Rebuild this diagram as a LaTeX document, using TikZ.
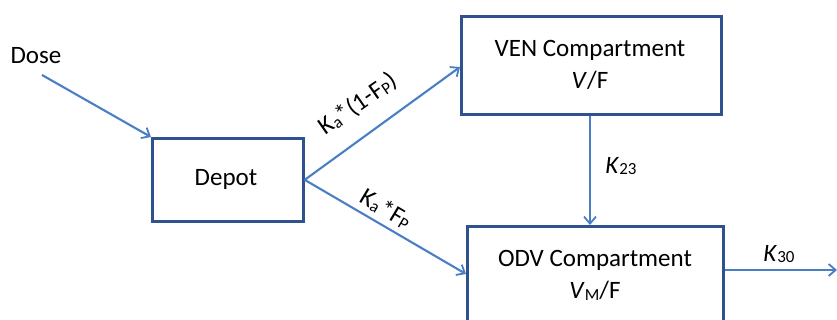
\documentclass[tikz,border=0pt]{standalone}
\usepackage{fontspec}
\setmainfont{Carlito}
\usetikzlibrary{arrows.meta}
\definecolor{flowblue}{HTML}{4A7EC4}
\definecolor{boxblue}{HTML}{2F528F}
\tikzset{
  x=1pt, y=-1pt,
  comp/.style={draw=boxblue, line width=2.7pt, rectangle, anchor=north west, inner sep=0pt},
  flow/.style={draw=flowblue, line width=2.1pt, -{Straight Barb[length=7pt,width=12pt,line width=1.8pt]}},
  lbl/.style={font=\fontsize{25}{28}\selectfont, inner sep=0pt},
}
\newcommand{\sub}[1]{\raisebox{-0.15ex}{\fontsize{17}{18}\selectfont #1}}
\begin{document}
\begin{tikzpicture}
\clip (0,0) rectangle (837,320);
% compartments
\node[comp, minimum width=151pt, minimum height=83pt] (depot) at (151,137) {};
\node[comp, minimum width=260pt, minimum height=98pt] (ven) at (460,15) {};
\node[comp, minimum width=256pt, minimum height=110pt] (odv) at (466,225) {};
% box texts
\node[lbl] (tdepot) at (226,179) {Depot};
\node[lbl] (tven) at (590,50) {VEN Compartment};
\node[lbl] (tvenv) at (590,80) {\textit{V}/F};
\node[lbl] (todv) at (595,260) {ODV Compartment};
\node[lbl] (todvv) at (595,291) {\textit{V}\sub{M}/F};
% dose input
\node[lbl] (dose) at (36,56) {Dose};
\coordinate (dosestart) at (42,75);
\coordinate (elim) at (837,270);
% flows
\draw[flow] (dosestart) -- (depot.north west);
\draw[flow] (depot.east) -- (460,67) coordinate (venin);
\draw[flow] (depot.east) -- (466,274) coordinate (odvin);
\draw[flow] (ven.south -| 590,0) -- (odv.north -| 590,0);
\draw[flow] (odv.east |- elim) -- (elim);
% rate constants
\node[lbl, rotate=35] (kup) at (358,104) {K\sub{a}*(1-F\sub{P})};
\node[lbl, rotate=-31] (kdown) at (386,209) {K\sub{a}\kern1pt*F\sub{P}};
\node[lbl] (k23) at (621,166) {\textit{K}\sub{23}};
\node[lbl] (k30) at (779,254) {\textit{K}\sub{30}};
\end{tikzpicture}
\end{document}
